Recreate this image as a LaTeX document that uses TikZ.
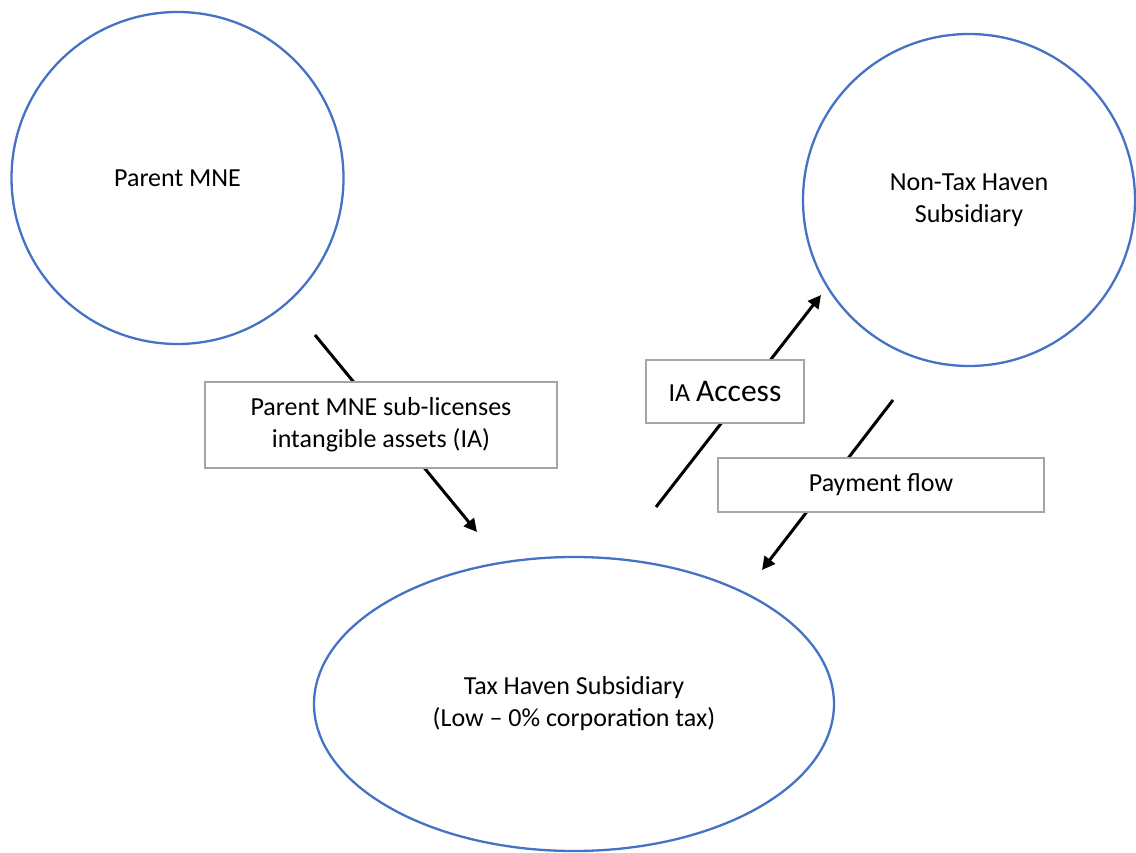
\documentclass[tikz,border=0pt]{standalone}
\usepackage{fontspec}
\setmainfont{Carlito}
\usetikzlibrary{shapes.geometric,arrows.meta}
\definecolor{ringblue}{HTML}{4472C4}
\definecolor{boxgray}{HTML}{A5A5A5}
\begin{document}
\begin{tikzpicture}[x=1pt,y=-1pt,
  every node/.style={font=\fontsize{26}{32}\selectfont, align=center, text=black},
  ring/.style={circle, draw=ringblue, line width=2.3pt, minimum size=332pt, inner sep=0pt},
  oval/.style={ellipse, draw=ringblue, line width=2.3pt, minimum width=520pt, minimum height=294pt, inner sep=0pt},
  labelbox/.style={rectangle, draw=boxgray, line width=2pt, fill=white, inner sep=0pt},
  flow/.style={line width=3pt, -{Triangle[length=13pt,width=13pt]}}
]
\useasboundingbox (0,0) rectangle (1136,853);

\node[ring] (parent) at (177.5,178) {Parent MNE};
\node[ring] (nontax) at (969,200) {Non-Tax Haven\\Subsidiary};
\node[oval] (haven) at (574,704) {Tax Haven Subsidiary\\(Low -- 0\% corporation tax)};

\coordinate (a1s) at (315,335);
\coordinate (a1e) at (477,532);
\coordinate (a2s) at (656,507);
\coordinate (a2e) at (821,295);
\coordinate (a3s) at (893,400);
\coordinate (a3e) at (762,570);

\draw[flow] (a1s) -- (a1e);
\draw[flow] (a2s) -- (a2e);
\draw[flow] (a3s) -- (a3e);

\node[labelbox, minimum width=352pt, minimum height=86pt] (lic) at (381,425)
  {Parent MNE sub-licenses\\intangible assets (IA)};
\node[labelbox, minimum width=158pt, minimum height=63pt] (access) at (725,391.5)
  {IA {\fontsize{31.5}{36}\selectfont Access}};
\node[labelbox, minimum width=326pt, minimum height=54pt] (pay) at (881,485)
  {Payment flow};
\end{tikzpicture}
\end{document}
